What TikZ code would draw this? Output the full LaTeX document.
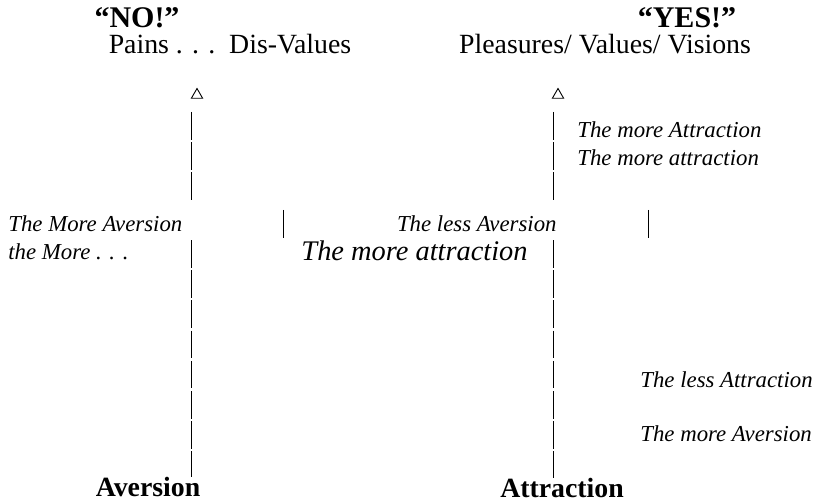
\documentclass[tikz,border=0pt]{standalone}
\usepackage{fontspec}
\setmainfont{Liberation Serif}
\usepackage{tikz}
\usetikzlibrary{positioning,shapes.geometric}
\tikzset{
  axisline/.style={line width=0.45pt, dash pattern=on 13.8pt off 1.3pt},
  tick/.style={line width=0.45pt},
  pole/.style={font=\fontsize{15}{17}\selectfont\bfseries, inner sep=0pt},
  endpole/.style={font=\fontsize{13.9}{16}\selectfont\bfseries, inner sep=0pt},
  heading/.style={font=\fontsize{13.9}{16}\selectfont, inner sep=0pt},
  remark/.style={font=\fontsize{11.4}{13}\selectfont\itshape, inner sep=0pt},
  bigremark/.style={font=\fontsize{14.2}{16}\selectfont\itshape, inner sep=0pt},
  marker/.style={draw, regular polygon, regular polygon sides=3, line width=0.45pt, minimum size=6.5pt, inner sep=0pt}
}

\begin{document}
\begin{tikzpicture}[x=0.5pt, y=-0.5pt]
      \useasboundingbox (0,0) rectangle (818,502);
      % the two poles
      \node[pole] (no) at (137,18) {``NO!''};
      \node[pole] (yes) at (687,18) {``YES!''};
      \node[heading] (pains) at (230,44) {Pains . . .\ \ Dis-Values};
      \node[heading] (pleasures) at (605,44) {Pleasures/ Values/ Visions};
      \node[marker] (triL) at (197,95) {};
      \node[marker] (triR) at (558,95) {};
      \node[endpole] (aversion) at (148,487) {Aversion};
      \node[endpole] (attraction) at (562,488) {Attraction};
      % labels
      \node[remark, anchor=west] (moreAv) at (8,224) {The More Aversion};
      \node[remark, anchor=west] (theMore) at (8,252) {the More . . .};
      \node[remark, anchor=east] (lessAv) at (557,224) {The less Aversion};
      \node[bigremark, anchor=east] (moreAttrMid) at (528,251) {The more attraction};
      \node[remark, anchor=west] (moreAttrA) at (577,130) {The more Attraction};
      \node[remark, anchor=west] (moreAttrB) at (577,158) {The more attraction};
      \node[remark, anchor=west] (lessAttr) at (640,380) {The less Attraction};
      \node[remark, anchor=west] (moreAvR) at (640,434) {The more Aversion};
      % axes
      \coordinate (topL) at (191,112);
      \coordinate (gapLa) at (191,201);
      \coordinate (gapLb) at (191,240);
      \coordinate (topR) at (553,112);
      \coordinate (gapRa) at (553,201);
      \coordinate (gapRb) at (553,240);
      \draw[axisline] (topL) -- (gapLa);
      \draw[axisline] (gapLb) -- (aversion.north -| gapLb);
      \draw[axisline] (topR) -- (gapRa);
      \draw[axisline] (gapRb) -- (attraction.north -| gapRb);
      \coordinate (midLa) at (283,210);
      \coordinate (midLb) at (283,238);
      \coordinate (midRa) at (648,210);
      \coordinate (midRb) at (648,238);
      \draw[tick] (midLa) -- (midLb);
      \draw[tick] (midRa) -- (midRb);
    \end{tikzpicture}
\end{document}
